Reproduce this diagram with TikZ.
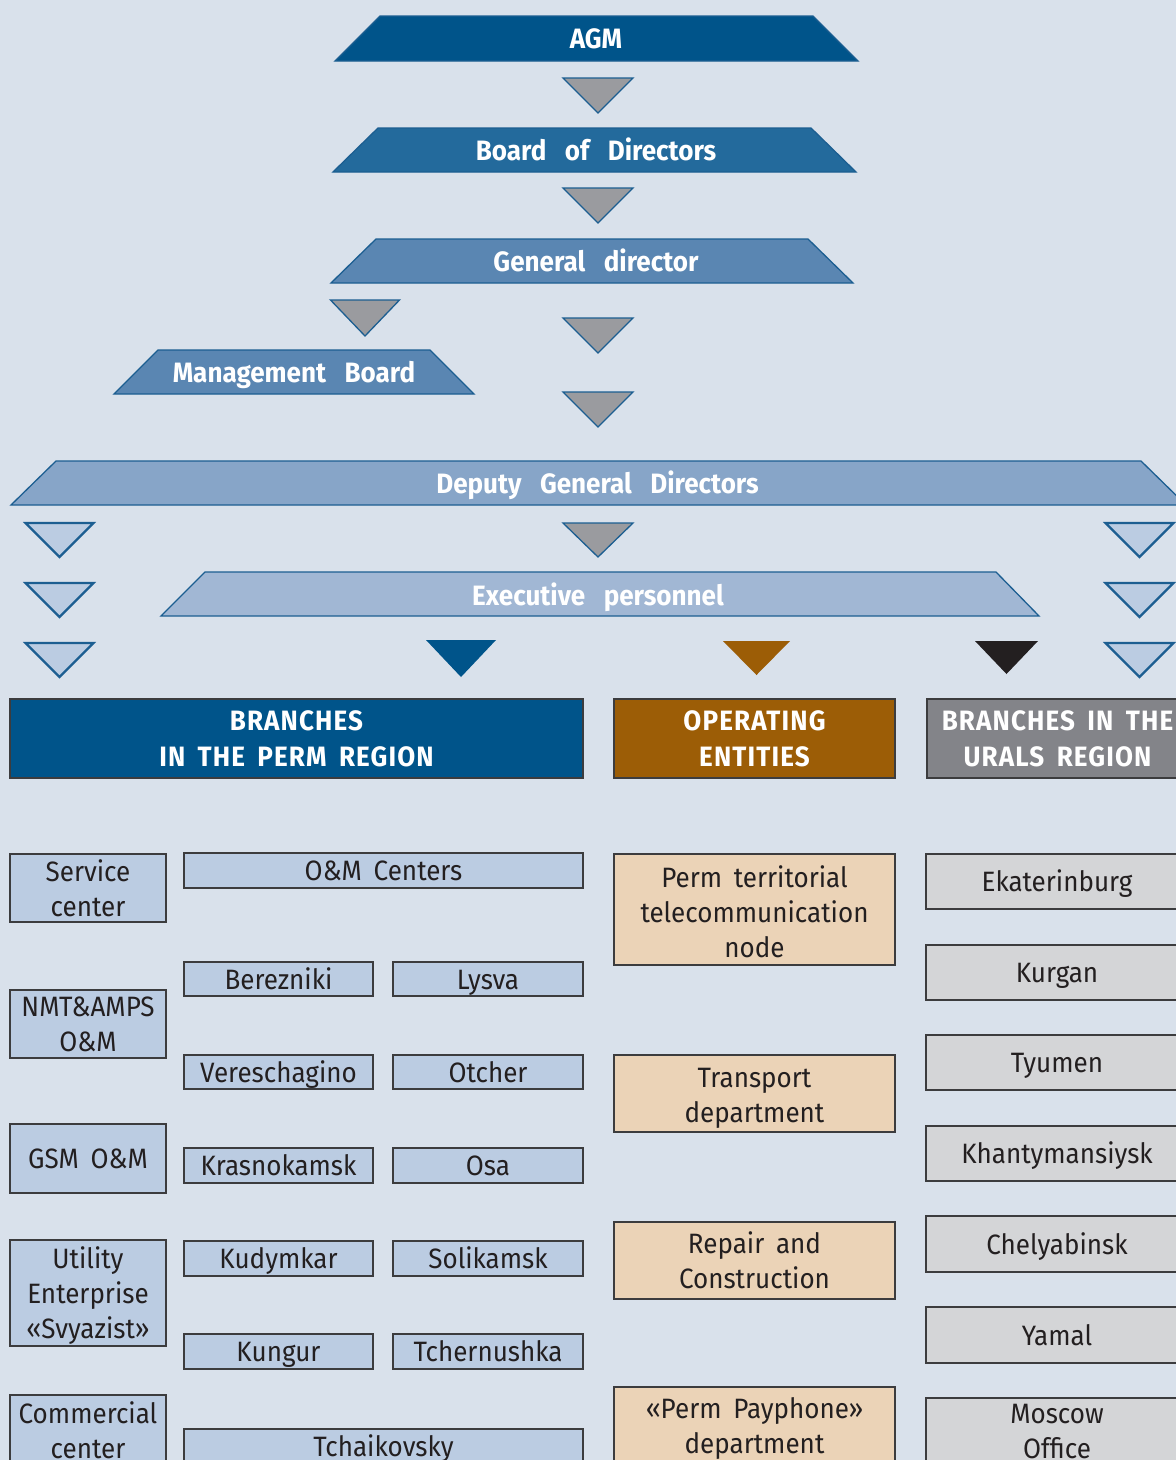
\documentclass[tikz,border=0pt]{standalone}
\usepackage{fontspec}
\setmainfont{Fira Sans}[FakeStretch=0.93, WordSpace=1.7]
\newfontfamily\capsfont{Fira Sans}[FakeStretch=0.93, WordSpace=1.7, LetterSpace=4]
\newfontfamily\trapfont{Fira Sans}[FakeStretch=0.93, WordSpace=3.0]

\definecolor{bgcol}{HTML}{D9E1EB}
\definecolor{agmcol}{HTML}{00548A}
\definecolor{boardcol}{HTML}{236A9C}
\definecolor{gencol}{HTML}{5A86B2}
\definecolor{deputycol}{HTML}{87A5C8}
\definecolor{execcol}{HTML}{A1B7D4}
\definecolor{lightcol}{HTML}{BBCCE2}
\definecolor{edgecol}{HTML}{1C5E91}
\definecolor{trigray}{HTML}{9A9B9F}
\definecolor{browncol}{HTML}{9C5D06}
\definecolor{beigecol}{HTML}{EBD3B7}
\definecolor{uralscol}{HTML}{838489}
\definecolor{graybox}{HTML}{D4D5D7}
\definecolor{inkcol}{HTML}{231F20}
\definecolor{framecol}{HTML}{3C3C3E}

\tikzset{
  trapz/.style={draw=edgecol, line width=1.3pt, line join=miter},
  traptext/.style={text=white, font=\trapfont\bfseries\fontsize{28}{35}\selectfont,
    inner sep=0pt, text height=20pt, text depth=0pt},
  tgray/.style={fill=trigray, draw=edgecol, line width=1.3pt},
  tlight/.style={fill=lightcol, draw=edgecol, line width=2.2pt},
  tsolid/.style={fill=#1, draw=none},
  box/.style={draw=framecol, line width=1.2pt, inner sep=0pt, align=center,
    text=inkcol, font=\fontsize{28}{35}\selectfont, text depth=0pt},
  single/.style={text height=20pt},
  bluebox/.style={box, fill=lightcol},
  beigebox/.style={box, fill=beigecol},
  greybox/.style={box, fill=graybox},
  headbox/.style={box, text=white, font=\capsfont\bfseries\fontsize{28}{36}\selectfont}
}

% downward triangle: apex x, top y, half width, height, style
\newcommand\dtri[5]{\path[#5] ({#1-#3},{#2}) -- ({#1+#3},{#2}) -- ({#1},{#2+#4}) -- cycle;}

\begin{document}
\begin{tikzpicture}[x=1pt, y=-1pt]
\clip (0,0) rectangle (1176,1460);
\fill[bgcol] (0,0) rectangle (1176,1460);

% governing bodies
\path[trapz, fill=agmcol] (335,61) -- (380,16) -- (813,16) -- (858,61) -- cycle;
\node[traptext] (agm) at (596,38.5) {AGM};
\dtri{598}{78}{35}{35}{tgray}

\path[trapz, fill=boardcol] (333,172) -- (378,128) -- (811,128) -- (856,172) -- cycle;
\node[traptext] (board) at (596,150) {Board of Directors};
\dtri{598}{188}{35}{35}{tgray}

\path[trapz, fill=gencol] (331,283) -- (376,239) -- (808,239) -- (853,283) -- cycle;
\node[traptext] (gendir) at (596,261) {General director};
\dtri{365}{300}{34.5}{36}{tgray}
\dtri{598}{318}{35}{35}{tgray}

\path[trapz, fill=gencol] (114,394) -- (158,350) -- (430,350) -- (474,394) -- cycle;
\node[traptext] (mboard) at (294,372) {Management Board};
\dtri{598}{392}{35}{35}{tgray}

\path[trapz, fill=deputycol] (11,505) -- (56,461) -- (1141,461) -- (1186,505) -- cycle;
\node[traptext] (deputy) at (597.5,483) {Deputy General Directors};
\dtri{598}{523}{35}{34}{tgray}
\foreach \yy in {523,583,643} {
  \dtri{59.5}{\yy}{34}{34}{tlight}
  \dtri{1139.5}{\yy}{34}{34}{tlight}
}

\path[trapz, fill=execcol] (161,616) -- (205,572) -- (996,572) -- (1039,616) -- cycle;
\node[traptext] (exec) at (598,595) {Executive personnel};

\dtri{461}{640}{35}{37}{tsolid=agmcol}
\dtri{756.5}{641}{33.5}{34}{tsolid=browncol}
\dtri{1006.5}{641}{31.5}{33}{tsolid=inkcol}

% division headers
\node[headbox, fill=agmcol, minimum width=573, minimum height=79] (perm) at (296.5,738.5) {BRANCHES\\IN THE PERM REGION};
\node[headbox, fill=browncol, minimum width=281, minimum height=79] (oper) at (754.5,738.5) {OPERATING\\ENTITIES};
\node[headbox, fill=uralscol, minimum width=261, minimum height=79] (urals) at (1057.5,738.5) {BRANCHES IN THE\\URALS REGION};

% Perm region: services
\node[bluebox, minimum width=156, minimum height=68] (service) at (88,888) {Service\\center};
\node[bluebox, minimum width=156, minimum height=68] (nmt) at (88,1024) {NMT\&AMPS\\O\&M};
\node[bluebox, single, minimum width=156, minimum height=69] (gsm) at (88,1158.5) {GSM O\&M};
\node[bluebox, minimum width=156, minimum height=106] (utility) at (88,1293) {Utility\\Enterprise\\«Svyazist»};
\node[bluebox, minimum width=156, minimum height=70] (commerce) at (88,1430) {Commercial\\center};

% Perm region: O&M centers
\node[bluebox, single, minimum width=399, minimum height=35] (omc) at (383.5,870.5) {O\&M Centers};
\node[bluebox, single, minimum width=189, minimum height=34] (berez) at (278.5,979) {Berezniki};
\node[bluebox, single, minimum width=190, minimum height=34] (lysva) at (488,979) {Lysva};
\node[bluebox, single, minimum width=189, minimum height=34] (veres) at (278.5,1072) {Vereschagino};
\node[bluebox, single, minimum width=190, minimum height=34] (otcher) at (488,1072) {Otcher};
\node[bluebox, single, minimum width=189, minimum height=35] (krasno) at (278.5,1165.5) {Krasnokamsk};
\node[bluebox, single, minimum width=190, minimum height=35] (osa) at (488,1165.5) {Osa};
\node[bluebox, single, minimum width=189, minimum height=35] (kudym) at (278.5,1258.5) {Kudymkar};
\node[bluebox, single, minimum width=190, minimum height=35] (solik) at (488,1258.5) {Solikamsk};
\node[bluebox, single, minimum width=189, minimum height=35] (kungur) at (278.5,1351.5) {Kungur};
\node[bluebox, single, minimum width=190, minimum height=35] (tcher) at (488,1351.5) {Tchernushka};
\node[bluebox, single, minimum width=399, minimum height=34] (tchaik) at (383.5,1446) {Tchaikovsky};

% operating entities
\node[beigebox, minimum width=281, minimum height=111] (ptn) at (754.5,909.5) {};
\node[align=center, text=inkcol, font=\fontsize{28}{35}\selectfont, inner sep=0pt, text depth=0pt] (ptntext) at (754.5,912) {Perm territorial\\telecommunication\\node};
\node[beigebox, minimum width=281, minimum height=77] (transp) at (754.5,1093.5) {};
\node[align=center, text=inkcol, font=\fontsize{28}{35}\selectfont, inner sep=0pt, text depth=0pt] (transptext) at (754.5,1095.5) {Transport\\department};
\node[beigebox, minimum width=281, minimum height=77] (repair) at (754.5,1260.5) {Repair and\\Construction};
\node[beigebox, minimum width=281, minimum height=78] (payph) at (754.5,1426) {«Perm Payphone»\\department};

% Urals region branches
\node[greybox, single, minimum width=262, minimum height=55] (ekat) at (1057,881.5) {Ekaterinburg};
\node[greybox, single, minimum width=262, minimum height=55] (kurgan) at (1057,972.5) {Kurgan};
\node[greybox, single, minimum width=262, minimum height=55] (tyumen) at (1057,1062.5) {Tyumen};
\node[greybox, single, minimum width=262, minimum height=55] (khanty) at (1057,1153.5) {Khantymansiysk};
\node[greybox, single, minimum width=262, minimum height=56] (chely) at (1057,1244) {Chelyabinsk};
\node[greybox, single, minimum width=262, minimum height=56] (yamal) at (1057,1335) {Yamal};
\node[greybox, minimum width=262, minimum height=66] (moscow) at (1057,1431) {Moscow\\Office};
\end{tikzpicture}
\end{document}
